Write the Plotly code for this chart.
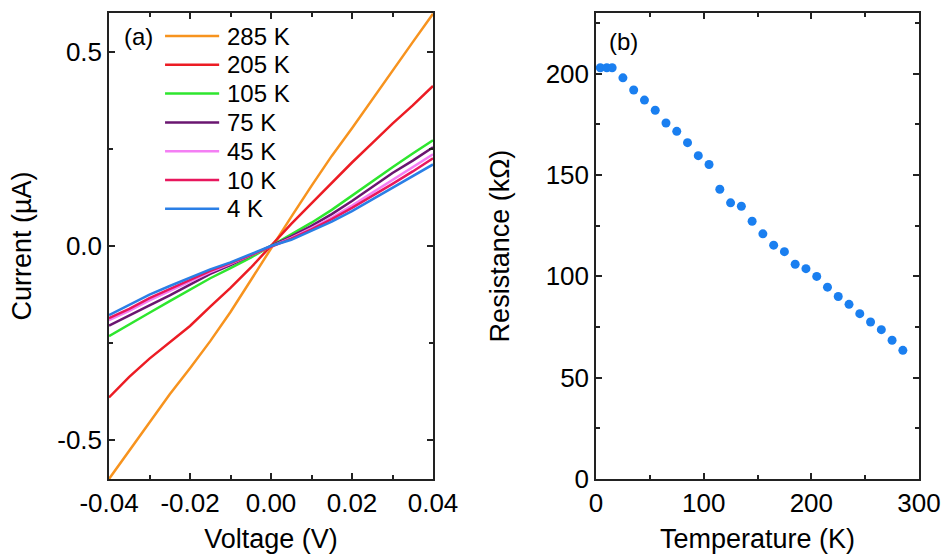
import plotly.graph_objects as go

# ---------------- Panel (a): I-V curves ----------------
voltage = [-0.04, -0.035, -0.03, -0.025, -0.02, -0.015, -0.01, -0.005, 0.0,
           0.005, 0.01, 0.015, 0.02, 0.025, 0.03, 0.035, 0.04]

current_285K = [-0.600, -0.527, -0.453, -0.382, -0.315, -0.245, -0.170, -0.088, -0.005,
                0.075, 0.155, 0.232, 0.303, 0.378, 0.452, 0.525, 0.598]
current_205K = [-0.390, -0.337, -0.290, -0.248, -0.206, -0.156, -0.108, -0.056, 0.000,
                0.057, 0.110, 0.163, 0.215, 0.265, 0.315, 0.362, 0.412]
current_105K = [-0.232, -0.203, -0.172, -0.142, -0.112, -0.083, -0.057, -0.030, 0.000,
                0.030, 0.060, 0.093, 0.130, 0.168, 0.203, 0.238, 0.272]
current_75K = [-0.205, -0.180, -0.153, -0.127, -0.099, -0.072, -0.049, -0.025, 0.000,
               0.025, 0.052, 0.082, 0.116, 0.153, 0.188, 0.220, 0.254]
current_45K = [-0.191, -0.167, -0.140, -0.116, -0.091, -0.067, -0.046, -0.024, 0.000,
               0.021, 0.046, 0.073, 0.104, 0.137, 0.170, 0.202, 0.236]
current_10K = [-0.186, -0.162, -0.134, -0.111, -0.087, -0.064, -0.044, -0.023, 0.000,
               0.019, 0.043, 0.069, 0.098, 0.128, 0.160, 0.192, 0.226]
current_4K = [-0.178, -0.152, -0.125, -0.103, -0.081, -0.060, -0.042, -0.021, 0.000,
              0.016, 0.039, 0.063, 0.090, 0.120, 0.152, 0.182, 0.210]

series_names = ["285 K", "205 K", "105 K", "75 K", "45 K", "10 K", "4 K"]
series_values = [current_285K, current_205K, current_105K, current_75K,
                 current_45K, current_10K, current_4K]
series_colors = ["#f7931e", "#ec1c24", "#2ee62e", "#6a1670", "#f47ff4", "#e8175d", "#2a7fe6"]

va_tickvals = [-0.04, -0.02, 0.0, 0.02, 0.04]
va_ticktext = ["-0.04", "-0.02", "0.00", "0.02", "0.04"]
ia_tickvals = [-0.5, 0.0, 0.5]
ia_ticktext = ["-0.5", "0.0", "0.5"]

# ---------------- Panel (b): R vs T ----------------
temperature = [4, 10, 15, 25, 35, 45, 55, 65, 75, 85, 95, 105, 115, 125, 135, 145,
               155, 165, 175, 185, 195, 205, 215, 225, 235, 245, 255, 265, 275, 285]
resistance = [203, 203, 203, 198, 192, 187, 182, 175.7, 171.6, 166, 159.6, 155.2,
              143, 136.3, 134.6, 127.2, 121, 115.4, 112.2, 106, 103.8, 100,
              94.7, 90.1, 86.2, 81.6, 77.5, 73.7, 68.5, 63.5]

tb_tickvals = [0, 100, 200, 300]
rb_tickvals = [0, 50, 100, 150, 200]

FONT = "Liberation Sans, Arial, sans-serif"
W, H = 943, 554

fig = go.Figure()
for name, vals, color in zip(series_names, series_values, series_colors):
    fig.add_trace(go.Scatter(x=voltage, y=vals, mode="lines", name=name,
                             line=dict(color=color, width=2.5),
                             xaxis="x", yaxis="y", showlegend=False))

fig.add_trace(go.Scatter(x=temperature, y=resistance, mode="markers",
                         marker=dict(color="#1a7ff0", size=9),
                         xaxis="x2", yaxis="y2", showlegend=False, cliponaxis=False))

axis_common = dict(showline=True, linecolor="#222", linewidth=1.5, mirror="allticks",
                   ticks="inside", ticklen=6, tickwidth=1.5, tickcolor="#222",
                   showgrid=False, zeroline=False, automargin=False,
                   tickfont=dict(size=26, color="black", family=FONT),
                   title_font=dict(size=27, color="black", family=FONT))
minor_common = dict(ticks="inside", ticklen=4, tickwidth=1.5, tickcolor="#222")

# legend drawn inside panel (a): sample line + label per series
legend_shapes = []
legend_annotations = []
for k, (name, color) in enumerate(zip(series_names, series_colors)):
    ypx = 36 + 28.8 * k
    yd = (479 - ypx) / 466
    legend_shapes.append(dict(type="line", xref="x domain", yref="y domain",
                              x0=0.173, x1=0.340, y0=yd, y1=yd,
                              line=dict(color=color, width=2.5)))
    legend_annotations.append(dict(text=name, xref="x domain", yref="y domain",
                                   x=0.358, y=yd, xanchor="left", yanchor="middle",
                                   showarrow=False,
                                   font=dict(size=24, family=FONT, color="black")))

fig.update_layout(
    width=W, height=H,
    margin=dict(l=0, r=0, t=0, b=0, autoexpand=False),
    paper_bgcolor="white", plot_bgcolor="white",
    font=dict(family=FONT, color="black"),
    showlegend=False,
    xaxis=dict(axis_common, domain=[109 / W, 433 / W], range=[-0.04, 0.04], anchor="y",
               tickvals=va_tickvals, ticktext=va_ticktext,
               minor=dict(minor_common, dtick=0.01),
               title=dict(text="Voltage (V)", standoff=20)),
    yaxis=dict(axis_common, domain=[1 - 479 / H, 1 - 13 / H], range=[-0.6, 0.6], anchor="x",
               tickvals=ia_tickvals, ticktext=ia_ticktext,
               minor=dict(minor_common, dtick=0.25),
               title=dict(text="Current (µA)", standoff=18)),
    xaxis2=dict(axis_common, domain=[596 / W, 919 / W], range=[0, 300], anchor="y2",
                tickvals=tb_tickvals,
                minor=dict(minor_common, dtick=50),
                title=dict(text="Temperature (K)", standoff=20)),
    yaxis2=dict(axis_common, domain=[1 - 479 / H, 1 - 13 / H], range=[0, 230], anchor="x2",
                tickvals=rb_tickvals,
                minor=dict(minor_common, dtick=25),
                title=dict(text="Resistance (kΩ)", standoff=28)),
    shapes=legend_shapes,
    annotations=legend_annotations + [
        dict(text="(a)", x=138 / W, y=1 - 36 / H, xref="paper", yref="paper",
             xanchor="center", yanchor="middle",
             showarrow=False, font=dict(size=24, family=FONT, color="black")),
        dict(text="(b)", x=623 / W, y=1 - 42 / H, xref="paper", yref="paper",
             xanchor="center", yanchor="middle",
             showarrow=False, font=dict(size=24, family=FONT, color="black")),
    ],
)

fig.write_html("out.html",
               config={"displayModeBar": False},
               post_script="document.body.style.margin='0';document.body.style.overflow='hidden';")
